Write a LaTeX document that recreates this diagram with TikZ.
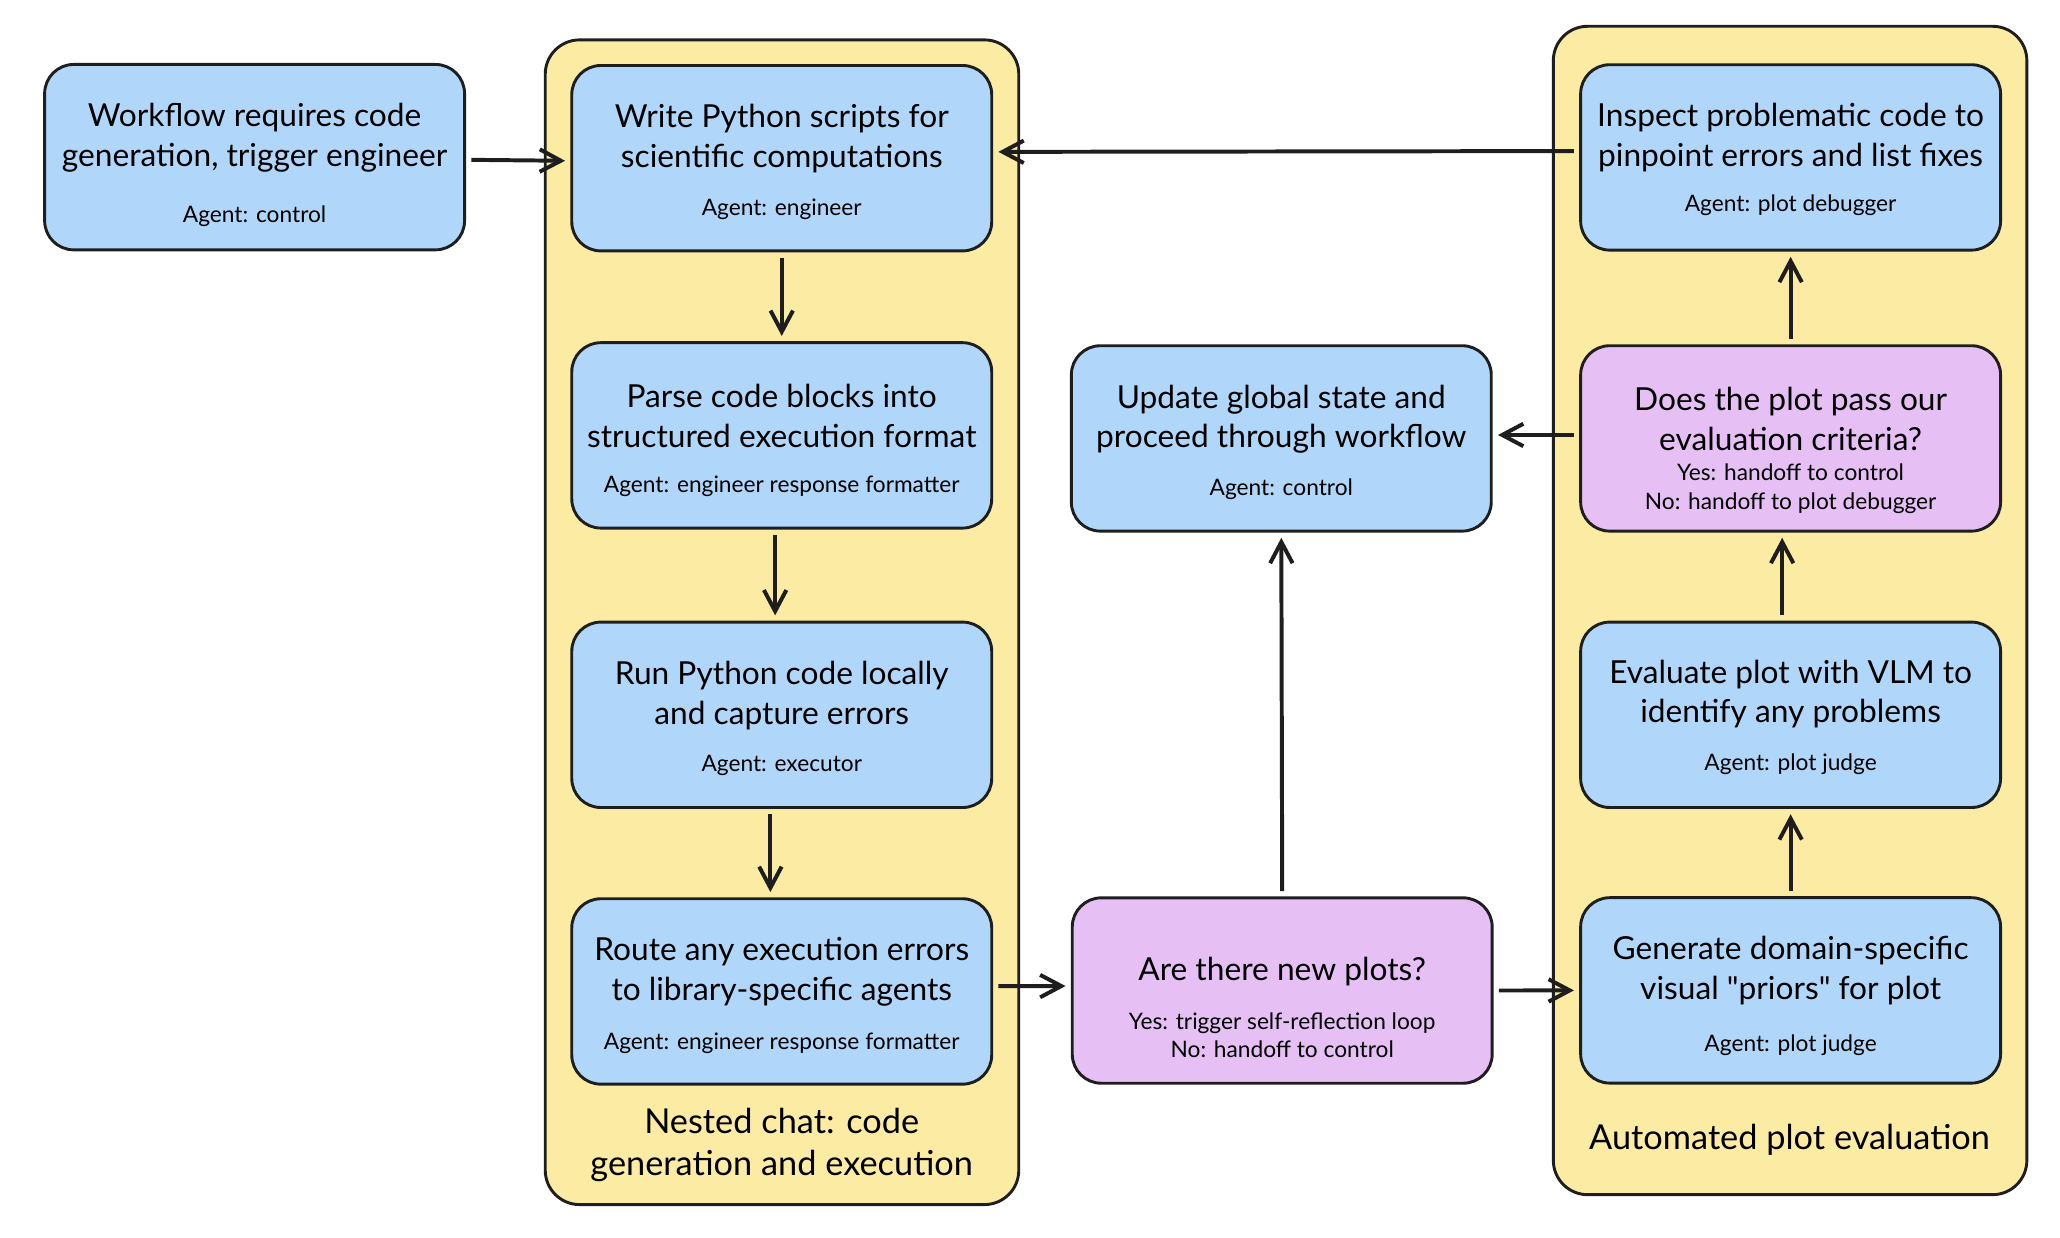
\documentclass[tikz,border=0pt]{standalone}
\usepackage{fontspec}
\setmainfont{Lato}
\newfontfamily\plainquote{Lato}
\usetikzlibrary{arrows.meta}
\definecolor{boxblue}{RGB}{176,215,250}
\definecolor{boxpurple}{RGB}{230,192,245}
\definecolor{groupyellow}{RGB}{252,235,163}
\definecolor{inkgray}{RGB}{30,30,30}
\tikzset{
  stepbox/.style={draw=inkgray, line width=1.1pt, rounded corners=11pt, fill=boxblue,
    minimum width=159pt, minimum height=70.2pt, inner sep=0pt},
  askbox/.style={stepbox, fill=boxpurple},
  steptitle/.style={align=center, inner sep=0pt, font=\fontsize{12}{15}\selectfont},
  agentnote/.style={align=center, inner sep=0pt, font=\fontsize{8.6}{10.7}\selectfont},
  groupbox/.style={draw=inkgray, line width=1.1pt, rounded corners=13pt, fill=groupyellow},
  grouplabel/.style={align=center, inner sep=0pt, font=\fontsize{13}{15.7}\selectfont},
  flow/.style={draw=inkgray, line width=1.5pt, shorten >=2pt, shorten <=2pt,
    -{Straight Barb[length=8pt,width=8.5pt,line width=1.5pt]}},
}
\begin{document}
\begin{tikzpicture}[x=0.5pt,y=0.5pt,yscale=-1,xscale=1]
\useasboundingbox (0,0) rectangle (1560,937.5);

%Shape: Group Rectangles
\node (nested) [groupbox, minimum width=179.3pt, minimum height=441pt] at (592.2,471.2) {};
\node (automated) [groupbox, minimum width=179.3pt, minimum height=442.4pt] at (1355.6,462.3) {};

% Text Node
\node (nestedlabel) [grouplabel] at (592,867) {Nested chat: code\\generation and execution};
% Text Node
\node (automatedlabel) [grouplabel] at (1355.2,863.4) {Automated plot evaluation};

%Shape: Step Boxes
\node (workflow) [stepbox] at (192.8,119) {};
\node (write) [stepbox] at (592,119.8) {};
\node (parse) [stepbox] at (592,329.7) {};
\node (run) [stepbox] at (592,541.3) {};
\node (route) [stepbox] at (592,750.8) {};
\node (update) [stepbox] at (970.3,332) {};
\node (newplots) [askbox] at (971,750.1) {};
\node (inspect) [stepbox] at (1356,119.2) {};
\node (criteria) [askbox] at (1356,332) {};
\node (evaluate) [stepbox] at (1356,541.3) {};
\node (generate) [stepbox] at (1356,750) {};

% Text Node
\node (workflowtitle) [steptitle] at (192.8,104.5) {Workflow requires code\\generation, trigger engineer};
\node (workflowagent) [agentnote] at (192.8,163.5) {Agent: control};
% Text Node
\node (writetitle) [steptitle] at (592,105) {Write Python scripts for\\scientific computations};
\node (writeagent) [agentnote] at (592,158.5) {Agent: engineer};
% Text Node
\node (parsetitle) [steptitle] at (592,315) {Parse code blocks into\\structured execution format};
\node (parseagent) [agentnote] at (592,368) {Agent: engineer response formatter};
% Text Node
\node (runtitle) [steptitle] at (592,526.5) {Run Python code locally\\and capture errors};
\node (runagent) [agentnote] at (592,580) {Agent: executor};
% Text Node
\node (routetitle) [steptitle] at (592,736) {Route any execution errors\\to library-specific agents};
\node (routeagent) [agentnote] at (592,790) {Agent: engineer response formatter};
% Text Node
\node (updatetitle) [steptitle] at (970.3,317.5) {Update global state and\\proceed through workflow};
\node (updateagent) [agentnote] at (970.3,370.5) {Agent: control};
% Text Node
\node (newplotstitle) [steptitle] at (971,736) {Are there new plots?};
\node (newplotsagent) [agentnote] at (971,784) {Yes: trigger self-reflection loop\\No: handoff to control};
% Text Node
\node (inspecttitle) [steptitle] at (1356,104) {Inspect problematic code to\\pinpoint errors and list fixes};
\node (inspectagent) [agentnote] at (1356,155.7) {Agent: plot debugger};
% Text Node
\node (criteriatitle) [steptitle] at (1356,317.4) {Does the plot pass our\\evaluation criteria?};
\node (criteriaagent) [agentnote] at (1356,370) {Yes: handoff to control\\No: handoff to plot debugger};
% Text Node
\node (evaluatetitle) [steptitle] at (1356,525.6) {Evaluate plot with VLM to\\identify any problems};
\node (evaluateagent) [agentnote] at (1356,578.8) {Agent: plot judge};
% Text Node
\node (generatetitle) [steptitle] at (1356,735) {Generate domain-specific\\visual {\plainquote"}priors{\plainquote"} for plot};
\node (generateagent) [agentnote] at (1356,791.7) {Agent: plot judge};

%Straight Lines
\draw [flow] ([yshift=1pt]workflow.east) -- ([yshift=1pt]write.west);
\draw [flow] (write.south) -- (parse.north);
\draw [flow] ([xshift=-2.5pt]parse.south) -- ([xshift=-2.5pt]run.north);
\draw [flow] ([xshift=-4.3pt]run.south) -- ([xshift=-4.3pt]route.north);
\draw [flow] ([yshift=-2pt]route.east) -- ([yshift=-1.7pt]newplots.west);
\draw [flow] (newplots.north) -- (update.south);
\draw [flow] (newplots.east) -- (generate.west);
\draw [flow] (generate.north) -- (evaluate.south);
\draw [flow] ([xshift=-3.2pt]evaluate.north) -- ([xshift=-3.2pt]criteria.south);
\draw [flow] ([yshift=-1.3pt]criteria.west) -- ([yshift=-1.3pt]update.east);
\draw [flow] (criteria.north) -- (inspect.south);
\draw [flow] ([yshift=-2.4pt]inspect.west) -- ([yshift=-2.4pt]write.east);

\end{tikzpicture}
\end{document}
